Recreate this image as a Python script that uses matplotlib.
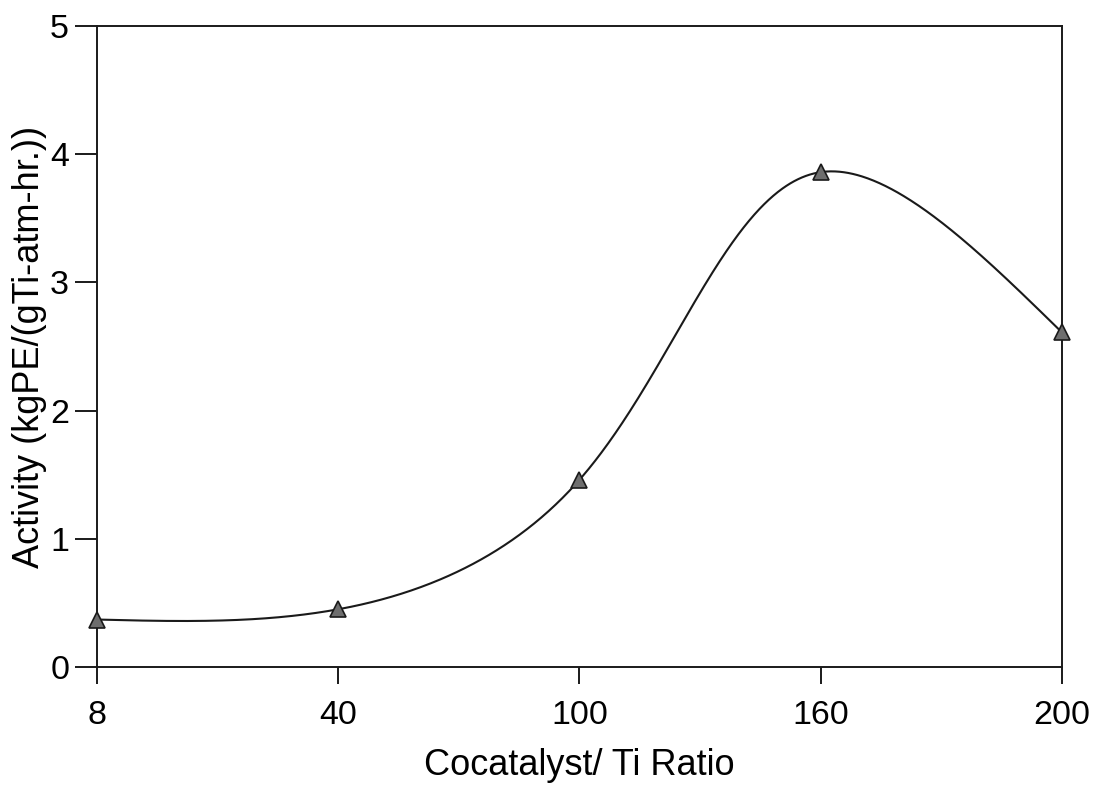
import numpy as np
import matplotlib
matplotlib.use('Agg')
import matplotlib.pyplot as plt

ratio_labels = ['8', '40', '100', '160', '200']
activity = [0.37, 0.45, 1.46, 3.86, 2.61]


def cubic_spline(x, y, t_eval):
    # natural cubic spline through (x, y), evaluated at t_eval
    x = np.asarray(x, float)
    y = np.asarray(y, float)
    k = len(x) - 1
    h = np.diff(x)
    s = np.diff(y) / h
    A = np.zeros((k + 1, k + 1))
    b = np.zeros(k + 1)
    A[0, 0] = 1
    A[k, k] = 1
    for i in range(1, k):
        A[i, i - 1] = h[i - 1]
        A[i, i] = 2 * (h[i - 1] + h[i])
        A[i, i + 1] = h[i]
        b[i] = 6 * (s[i] - s[i - 1])
    M = np.linalg.solve(A, b)
    seg = np.clip(np.searchsorted(x, t_eval) - 1, 0, k - 1)
    a = t_eval - x[seg]
    bb = x[seg + 1] - t_eval
    hh = h[seg]
    return (M[seg] * bb ** 3 / (6 * hh) + M[seg + 1] * a ** 3 / (6 * hh)
            + (y[seg] / hh - M[seg] * hh / 6) * bb
            + (y[seg + 1] / hh - M[seg + 1] * hh / 6) * a)


plt.rcParams['font.family'] = ['Liberation Sans', 'DejaVu Sans']

fig = plt.figure(figsize=(10.93, 7.88), dpi=100)
ax = fig.add_axes([0.0887, 0.1536, 0.8829, 0.8134])

pos = np.arange(len(ratio_labels))

# smooth curve: parametric spline along chord length in screen space
sx, sy = 241.25, 128.2
px = pos * sx
py = np.asarray(activity) * sy
chord = np.concatenate([[0], np.cumsum(np.hypot(np.diff(px), np.diff(py)))])
tt = np.linspace(0, chord[-1], 800)
ax.plot(cubic_spline(chord, px, tt) / sx, cubic_spline(chord, py, tt) / sy,
        color='#1a1a1a', linewidth=1.5, clip_on=False)

ax.plot(pos, activity, linestyle='none', marker='^', markersize=12,
        markerfacecolor='#6e6e6e', markeredgecolor='#1a1a1a',
        markeredgewidth=1.2, clip_on=False, zorder=3)

ax.set_xlim(0, 4)
ax.set_ylim(0, 5)
ax.set_xticks(pos)
ax.set_xticklabels(ratio_labels)
ax.set_yticks([0, 1, 2, 3, 4, 5])

for sp in ax.spines.values():
    sp.set_linewidth(1.4)
    sp.set_color('#1a1a1a')

ax.tick_params(axis='x', direction='out', length=12, width=1.4, pad=12,
               labelsize=24.5, color='#1a1a1a')
ax.tick_params(axis='y', direction='out', length=16, width=1.4, pad=4,
               labelsize=24.5, color='#1a1a1a')

ax.set_xlabel('Cocatalyst/ Ti Ratio', fontsize=26, labelpad=12)
ax.set_ylabel('Activity (kgPE/(gTi-atm-hr.))', fontsize=26, labelpad=2)

fig.savefig('out.png', dpi=100)
